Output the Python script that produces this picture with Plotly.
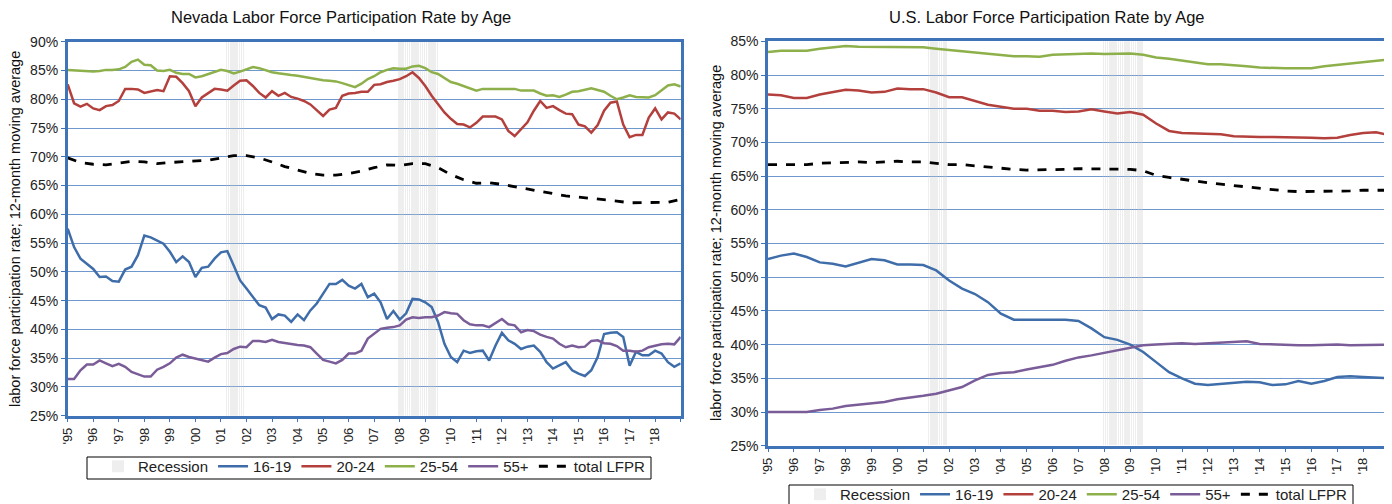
import plotly.graph_objects as go

# ---------------- time grids ----------------
quarters = [1995 + i * 0.25 for i in range(97)]      # 1995Q1 .. 2019Q1
half_years = [1995 + i * 0.5 for i in range(49)]     # 1995H1 .. 2019H1

year_ticks = list(range(1995, 2019))
year_labels = ["'" + str(y)[2:] for y in year_ticks]

# NBER recessions (months)
recession_periods = [("2001-03", "2001-11"), ("2007-12", "2009-06")]

# ---------------- Nevada (quarterly reads, %) ----------------
nv_16_19 = [57.5, 54.3, 52.3, 51.4, 50.5, 49.1, 49.2, 48.4, 48.3, 50.4, 50.9, 52.9,
            56.3, 56.0, 55.5, 54.9, 53.5, 51.7, 52.7, 51.7, 49.1, 50.7, 50.9, 52.3,
            53.4, 53.6, 51.1, 48.5, 47.1, 45.7, 44.2, 43.8, 41.8, 42.6, 42.4, 41.3,
            42.6, 41.6, 43.3, 44.5, 46.1, 47.9, 47.9, 48.6, 47.6, 47.1, 47.9, 45.6,
            46.2, 44.7, 41.8, 43.2, 41.7, 42.8, 45.3, 45.2, 44.7, 43.9, 41.3, 37.5,
            35.2, 34.3, 36.3, 35.9, 36.2, 36.3, 34.6, 37.2, 39.4, 38.1, 37.5, 36.6,
            37.0, 37.2, 36.1, 34.3, 33.2, 33.8, 34.3, 32.9, 32.3, 31.9, 32.9, 35.2,
            39.2, 39.4, 39.5, 38.7, 33.7, 36.1, 35.5, 35.5, 36.3, 35.8, 34.3, 33.5,
            34.1]
nv_20_24 = [82.6, 79.3, 78.7, 79.2, 78.4, 78.1, 78.8, 79.0, 79.7, 81.8, 81.8, 81.7,
            81.1, 81.3, 81.6, 81.4, 84.0, 83.9, 82.8, 81.4, 78.8, 80.3, 81.0, 81.8,
            81.7, 81.5, 82.4, 83.2, 83.3, 82.3, 81.1, 80.3, 81.4, 80.6, 81.1, 80.4,
            80.1, 79.7, 79.1, 78.1, 77.1, 78.2, 78.5, 80.6, 81.0, 81.1, 81.3, 81.3,
            82.5, 82.6, 83.0, 83.2, 83.5, 84.0, 84.7, 83.7, 82.3, 80.6, 79.1, 77.7,
            76.6, 75.7, 75.6, 75.1, 75.9, 77.0, 77.0, 77.0, 76.5, 74.5, 73.6, 74.8,
            76.0, 78.0, 79.7, 78.5, 78.8, 78.1, 77.5, 77.4, 75.6, 75.3, 74.2, 75.5,
            78.0, 79.4, 79.6, 75.6, 73.4, 73.8, 73.8, 76.8, 78.4, 76.5, 77.7, 77.5,
            76.5]
nv_25_54 = [85.1, 85.0, 85.0, 84.9, 84.8, 84.9, 85.1, 85.1, 85.2, 85.6, 86.5, 86.9,
            86.0, 85.9, 85.0, 84.9, 85.1, 84.6, 84.4, 84.4, 83.8, 84.0, 84.4, 84.7,
            85.1, 84.9, 84.5, 84.8, 85.2, 85.6, 85.4, 85.0, 84.7, 84.5, 84.3, 84.2,
            84.1, 83.9, 83.6, 83.4, 83.3, 83.2, 83.1, 82.8, 82.5, 82.1, 82.7, 83.5,
            84.0, 84.7, 85.1, 85.4, 85.3, 85.3, 85.7, 85.8, 85.4, 84.7, 84.4, 83.7,
            83.0, 82.7, 82.3, 81.9, 81.5, 81.8, 81.8, 81.7, 81.8, 81.7, 81.8, 81.5,
            81.5, 81.5, 81.0, 80.6, 80.7, 80.4, 80.8, 81.3, 81.4, 81.7, 81.9, 81.6,
            81.3, 80.6, 80.0, 80.3, 80.7, 80.4, 80.3, 80.3, 80.7, 81.5, 82.4, 82.6,
            82.2]
nv_55_plus = [31.4, 31.4, 32.9, 33.9, 33.9, 34.6, 34.1, 33.6, 34.0, 33.5, 32.6, 32.2,
              31.8, 31.8, 33.0, 33.5, 34.1, 35.1, 35.6, 35.2, 34.9, 34.6, 34.4, 35.1,
              35.7, 35.9, 36.6, 37.0, 36.9, 38.0, 38.0, 37.8, 38.2, 37.8, 37.6, 37.5,
              37.3, 37.2, 36.9, 35.8, 34.7, 34.4, 34.1, 34.7, 35.8, 35.8, 36.3, 38.4,
              39.3, 40.1, 40.3, 40.4, 40.7, 41.7, 42.1, 42.0, 42.1, 42.1, 42.4, 43.0,
              42.8, 42.7, 41.6, 40.9, 40.7, 40.7, 40.4, 41.1, 41.8, 40.9, 40.7, 39.5,
              39.9, 39.7, 39.1, 38.7, 38.4, 37.5, 36.9, 37.2, 36.9, 37.0, 38.0, 38.1,
              37.6, 37.5, 37.1, 36.3, 36.3, 36.1, 36.3, 36.9, 37.2, 37.4, 37.5, 37.4,
              38.7]
nv_total = [69.8, 69.0, 68.7, 68.6, 68.9, 69.2, 69.1, 68.8, 69.0, 69.1, 69.2, 69.4,
            69.8, 70.2, 70.2, 69.8, 69.1, 68.3, 67.7, 67.1, 66.8, 66.8, 67.1, 67.5,
            68.1, 68.6, 68.5, 68.8, 68.8, 68.1, 66.9, 66.0, 65.4, 65.5, 65.2, 64.8,
            64.3, 63.9, 63.5, 63.2, 63.0, 62.8, 62.6, 62.3, 62.0, 62.0, 62.0, 62.1,
            62.6]

# ---------------- U.S. (half-yearly reads, %) ----------------
us_16_19 = [52.7, 53.2, 53.5, 53.0, 52.2, 52.0, 51.6, 52.1, 52.7, 52.5, 51.9, 51.9,
            51.8, 51.0, 49.5, 48.3, 47.5, 46.3, 44.6, 43.7, 43.7, 43.8, 43.7, 43.7,
            43.5, 42.4, 41.1, 40.7, 40.0, 38.9, 37.4, 35.9, 35.0, 34.2, 34.0, 34.2,
            34.4, 34.5, 34.4, 34.0, 34.1, 34.6, 34.2, 34.6, 35.2, 35.3, 35.2, 35.1,
            35.0]
us_20_24 = [77.1, 77.0, 76.6, 76.6, 77.1, 77.5, 77.8, 77.7, 77.4, 77.5, 78.0, 77.9,
            77.9, 77.4, 76.7, 76.7, 76.2, 75.6, 75.3, 75.0, 75.0, 74.7, 74.7, 74.5,
            74.6, 74.9, 74.6, 74.3, 74.5, 74.1, 72.8, 71.7, 71.4, 71.3, 71.2, 71.2,
            70.9, 70.8, 70.8, 70.8, 70.8, 70.7, 70.7, 70.6, 70.7, 71.1, 71.4, 71.5,
            71.1]
us_25_54 = [83.4, 83.6, 83.6, 83.6, 83.9, 84.1, 84.3, 84.2, 84.2, 84.2, 84.2, 84.2,
            84.1, 83.9, 83.7, 83.5, 83.3, 83.1, 83.0, 82.8, 82.8, 82.7, 83.0, 83.1,
            83.2, 83.2, 83.1, 83.2, 83.2, 83.0, 82.6, 82.4, 82.1, 81.8, 81.6, 81.6,
            81.5, 81.3, 81.1, 81.0, 81.0, 81.0, 81.0, 81.3, 81.5, 81.7, 81.9, 82.1,
            82.3]
us_55_plus = [30.0, 30.0, 29.9, 30.0, 30.3, 30.5, 30.9, 31.1, 31.3, 31.5, 31.9, 32.1,
              32.4, 32.7, 33.2, 33.7, 34.7, 35.5, 35.8, 35.9, 36.3, 36.7, 37.0, 37.6,
              38.1, 38.4, 38.8, 39.2, 39.6, 39.9, 40.0, 40.1, 40.2, 40.1, 40.2, 40.4,
              40.5, 40.5, 40.1, 40.0, 39.9, 39.9, 39.9, 40.0, 40.0, 39.9, 39.9, 39.9,
              40.0]
us_total = [66.7, 66.7, 66.7, 66.7, 66.9, 67.0, 67.1, 67.1, 67.0, 67.1, 67.2, 67.1,
            67.1, 66.9, 66.7, 66.7, 66.5, 66.4, 66.1, 66.0, 65.9, 65.9, 66.0, 66.0,
            66.1, 66.1, 66.0, 66.0, 66.0, 65.8, 65.1, 64.8, 64.5, 64.3, 64.0, 63.8,
            63.6, 63.4, 63.2, 62.9, 62.8, 62.7, 62.7, 62.7, 62.8, 62.8, 62.9, 62.9,
            62.9]

series_names = ["16-19", "20-24", "25-54", "55+"]
series_colors = ["#3E6DAA", "#B3403C", "#8DB04A", "#7A5C98"]

# ---------------- recession months -> decimal years ----------------
def month_index(s):
    y, m = s.split("-")
    return int(y) * 12 + int(m) - 1

rec_x = []
for a, b in recession_periods:
    for k in range(month_index(a), month_index(b) + 1):
        rec_x.append(k / 12 + 1 / 24)
rec_flag = [1] * len(rec_x)

FONT = "Liberation Sans, Arial, sans-serif"
PAGE_W, PAGE_H = 1392, 504
OFF = 8                      # default page (body) margin in the browser
W, H = PAGE_W - OFF, PAGE_H - OFF
AX = "#3F74B8"
GRID = "#6F98CF"


def px(x):  # page x -> paper fraction
    return (x - OFF) / W


def py(y):  # page y -> paper fraction
    return 1 - (y - OFF) / H


fig = go.Figure()

charts = [
    dict(xa="x", yb="y", yl="y3", leg="legend",
         grid=[quarters] * 4 + [half_years],
         data=[nv_16_19, nv_20_24, nv_25_54, nv_55_plus, nv_total]),
    dict(xa="x2", yb="y2", yl="y4", leg="legend2",
         grid=[half_years] * 5,
         data=[us_16_19, us_20_24, us_25_54, us_55_plus, us_total]),
]

for c in charts:
    fig.add_trace(go.Bar(
        x=rec_x, y=rec_flag, width=1 / 12 * 0.72, name="Recession",
        marker=dict(color="rgba(200,200,200,0.30)", line=dict(width=0)),
        xaxis=c["xa"], yaxis=c["yb"], legend=c["leg"], hoverinfo="skip"))
    for i, nm in enumerate(series_names):
        fig.add_trace(go.Scatter(
            x=c["grid"][i], y=c["data"][i], mode="lines", name=nm,
            line=dict(color=series_colors[i], width=2.5),
            xaxis=c["xa"], yaxis=c["yl"], legend=c["leg"]))
    fig.add_trace(go.Scatter(
        x=c["grid"][4], y=c["data"][4], mode="lines", name="total LFPR",
        line=dict(color="black", width=2.8, dash="dash"),
        xaxis=c["xa"], yaxis=c["yl"], legend=c["leg"]))


def xaxis_cfg(d0, d1, anchor):
    return dict(domain=[px(d0), px(d1)], anchor=anchor, range=[1995, 2019],
                tickmode="array", tickvals=year_ticks + [2019], ticktext=year_labels + [""],
                tickangle=-90, ticks="outside", ticklen=4, tickcolor=AX,
                showgrid=False, showline=True, linecolor=AX, linewidth=2.5, mirror=True,
                tickfont=dict(size=13, color="#222", family=FONT), zeroline=False,
                automargin=False)


def ybase_cfg(t, b, anchor):
    return dict(domain=[py(b), py(t)], anchor=anchor, range=[0, 1],
                visible=False, fixedrange=True, automargin=False)


def yline_cfg(over, anchor, rng):
    return dict(overlaying=over, anchor=anchor, side="left", range=rng, dtick=5,
                ticksuffix="%", showgrid=True, gridcolor=GRID, gridwidth=1,
                showline=True, linecolor=AX, linewidth=2.5, mirror=True,
                ticks="outside", ticklen=4, tickcolor=AX, zeroline=False,
                automargin=False,
                tickfont=dict(size=14, color="#222", family=FONT))


legend_common = dict(orientation="h", bgcolor="rgba(0,0,0,0)", borderwidth=0,
                     font=dict(size=15, color="#222", family=FONT),
                     xanchor="left", yanchor="top", itemwidth=30, traceorder="normal")


def box(x0, y0, x1, y1):
    return dict(type="rect", xref="paper", yref="paper", x0=px(x0), x1=px(x1),
                y0=py(y1), y1=py(y0), line=dict(color="black", width=1),
                fillcolor="white", layer="above")


def note(text, x, y, size, angle=0):
    return dict(text=text, x=px(x), y=py(y), xref="paper", yref="paper", showarrow=False,
                xanchor="center", yanchor="middle", textangle=angle,
                font=dict(size=size, color="#111", family=FONT))


ytitle = "labor force participation rate; 12-month moving average"

fig.update_layout(
    width=W, height=H, margin=dict(l=0, r=0, t=0, b=0, autoexpand=False),
    paper_bgcolor="white", plot_bgcolor="white",
    font=dict(family=FONT, color="#222"),
    bargap=0,
    xaxis=xaxis_cfg(67.7, 680.7, "y"),
    yaxis=ybase_cfg(41.7, 415.7, "x"),
    yaxis3=yline_cfg("y", "x", [25, 90]),
    xaxis2=xaxis_cfg(768, 1389, "y2"),
    yaxis2=ybase_cfg(41.3, 445.7, "x2"),
    yaxis4=yline_cfg("y2", "x2", [25, 85]),
    legend=dict(legend_common, x=px(98), y=py(450)),
    legend2=dict(legend_common, x=px(800), y=py(478)),
    shapes=[box(87, 457, 651, 479), box(789, 485, 1353, 507)],
    annotations=[
        note("Nevada Labor Force Participation Rate by Age", 341, 17, 16.5),
        note("U.S. Labor Force Participation Rate by Age", 1047, 17, 16.5),
        note(ytitle, 15, 229, 14.5, -90),
        note(ytitle, 716, 243, 14.5, -90),
    ],
)

fig.write_html("out.html")
